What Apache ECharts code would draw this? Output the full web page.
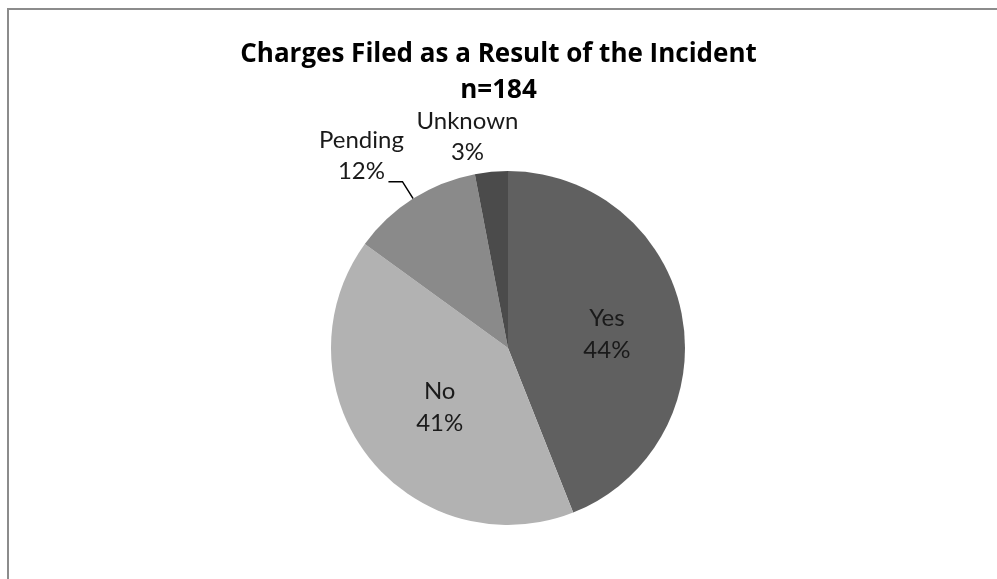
<!DOCTYPE html>
<html>
<head>
<meta charset="utf-8">
<style>
  html, body { margin: 0; padding: 0; background: #ffffff; }
  #chart { width: 997px; height: 579px; }
</style>
<script src="https://cdn.jsdelivr.net/npm/echarts@6/dist/echarts.min.js"></script>
</head>
<body>
<div id="chart"></div>
<script>
// Outcome categories and their share of the 184 incidents (percent)
const categories = ['Yes', 'No', 'Pending', 'Unknown'];
const percents = [44, 41, 12, 3];
const sliceColors = ['#606060', '#b2b2b2', '#8a8a8a', '#4b4b4b'];

const chart = echarts.init(document.getElementById('chart'), null, { renderer: 'canvas' });

const LABEL_FONT = 'Lato, "Open Sans", sans-serif';
const TITLE_FONT = '"Open Sans", "Noto Sans", sans-serif';

// centred line token for the outside labels
function lineToken(w) {
  return { width: w, align: 'center', lineHeight: 31, fontSize: 24, fontFamily: LABEL_FONT, color: '#1a1a1a' };
}

const pieData = categories.map(function (name, i) {
  const item = {
    name: name,
    value: percents[i],
    itemStyle: { color: sliceColors[i] }
  };
  if (name === 'Pending') {
    // two-line block sitting above the leader line, trailing spacer lifts it
    item.label = {
      position: 'outside',
      formatter: '{t|{b}}\n{t|{c}%}\n{s|}',
      rich: { t: lineToken(86), s: { lineHeight: 51 } }
    };
    item.labelLine = { show: true };
  } else if (name === 'Unknown') {
    item.label = {
      position: 'outside',
      formatter: '{t|{b}}\n{t|{c}%}',
      rich: { t: lineToken(104) }
    };
    item.labelLine = { show: false };
  }
  return item;
});

chart.setOption({
  animation: false,
  backgroundColor: '#ffffff',
  title: {
    text: 'Charges Filed as a Result of the Incident\nn=184',
    left: 'center',
    top: 32,
    textStyle: {
      fontFamily: TITLE_FONT,
      fontSize: 26,
      fontWeight: 'bold',
      color: '#000000',
      lineHeight: 36
    }
  },
  graphic: [{
    type: 'rect',
    silent: true,
    shape: { x: 8, y: 9, width: 1200, height: 800 },
    style: { fill: 'none', stroke: '#8c8c8c', lineWidth: 2 }
  }],
  series: [{
    type: 'pie',
    center: [508, 348],
    radius: [0, 177],
    startAngle: 90,
    clockwise: true,
    avoidLabelOverlap: false,
    itemStyle: { borderWidth: 0 },
    label: {
      position: 'inside',
      formatter: '{b}\n{c}%',
      fontFamily: LABEL_FONT,
      fontSize: 24,
      lineHeight: 32,
      color: '#1a1a1a'
    },
    labelLine: {
      length: 20,
      length2: 14,
      lineStyle: { color: '#000000', width: 1.5 }
    },
    labelLayout: function (params) {
      switch (params.dataIndex) {
        case 0: return { dx: 9, dy: 3 };
        case 1: return { dx: 4, dy: 3 };
        case 2: return { dx: 21 };
        case 3: return { dx: 49, dy: -15 };
      }
    },
    data: pieData
  }]
});
</script>
</body>
</html>
